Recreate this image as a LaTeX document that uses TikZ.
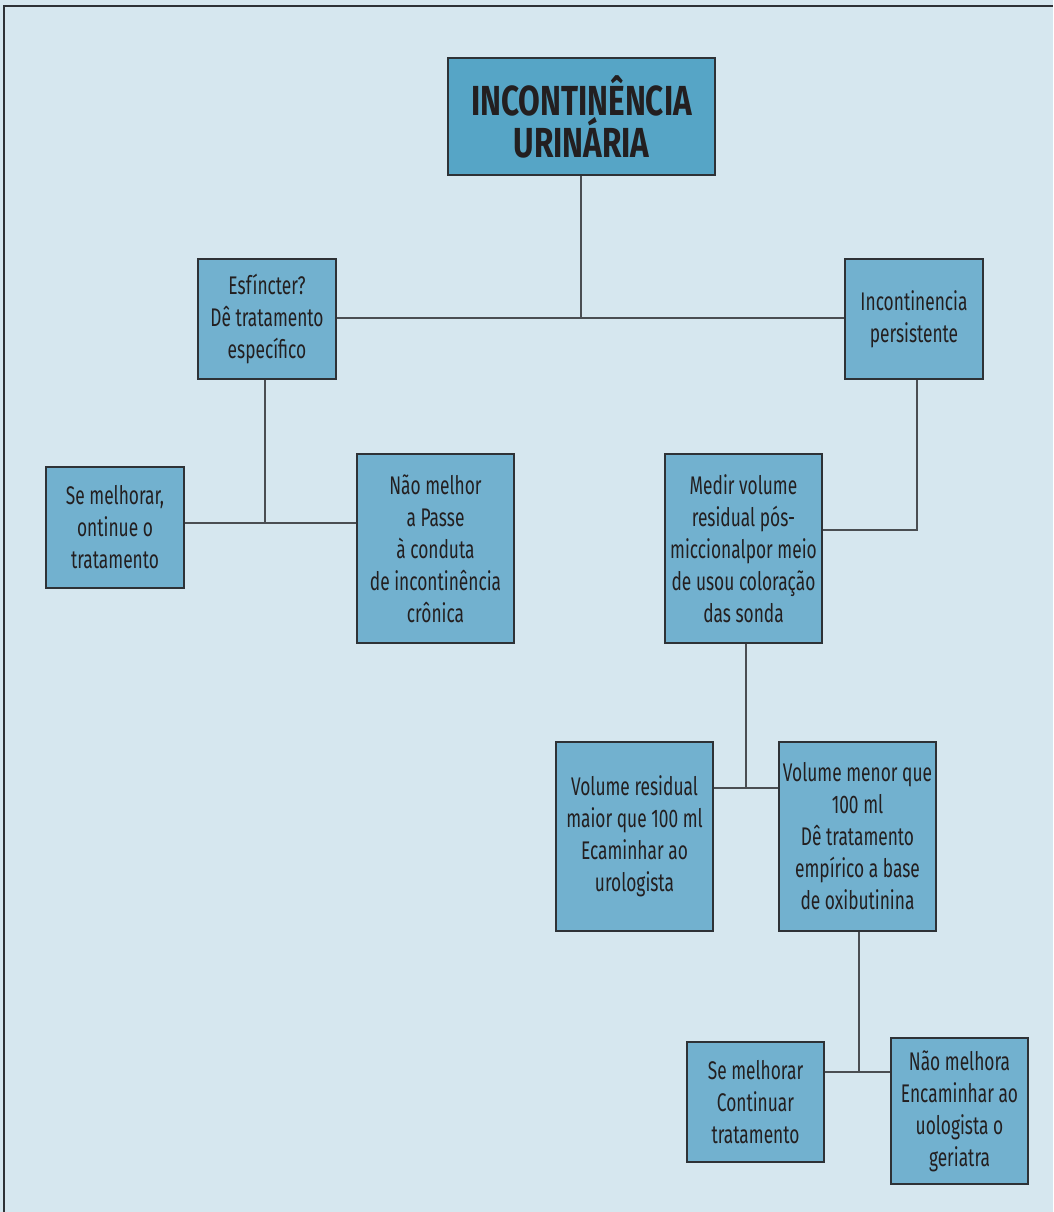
\documentclass[tikz,border=0pt]{standalone}
\usepackage{fontspec}
\setmainfont{Fira Sans}[FakeStretch=0.68]
\newfontfamily\titlefont{Fira Sans}[FakeStretch=0.75]
\definecolor{bgblue}{HTML}{D6E7EF}
\definecolor{boxblue}{HTML}{72B1CF}
\definecolor{titleblue}{HTML}{56A5C6}
\definecolor{edge}{HTML}{2E3236}
\definecolor{ink}{HTML}{231F20}
\definecolor{wire}{HTML}{4A4E52}
\tikzset{
  box/.style={draw=edge, line width=1.2pt, fill=boxblue, align=center, inner sep=0pt,
    text=ink, font=\fontsize{25.5}{32}\selectfont},
  titlebox/.style={box, fill=titleblue, font=\titlefont\fontsize{42}{42}\selectfont\bfseries},
  wire/.style={draw=wire, line width=1.2pt},
}
\begin{document}
\begin{tikzpicture}[x=1pt,y=-1pt]
\fill[bgblue] (0,0) rectangle (1053,1212);
\useasboundingbox (0,0) rectangle (1053,1212);
\draw[edge, line width=1.5pt] (4,1212) -- (4,6) -- (1053,6);

\node[titlebox, minimum width=267pt, minimum height=117pt] (title) at (581.5,116.5) {INCONTINÊNCIA\\URINÁRIA};
\node[box, minimum width=138pt, minimum height=120pt] (esf) at (267,319) {Esfíncter?\\Dê tratamento\\específico};
\node[box, minimum width=138pt, minimum height=120pt] (ip) at (914,319) {Incontinencia\\persistente};
\node[box, minimum width=138pt, minimum height=121pt] (sem) at (115,527.5) {Se melhorar,\\ontinue o\\tratamento};
\node[box, minimum width=157pt, minimum height=189pt] (nao) at (435.5,548.5) {Não melhor\\a Passe\\à conduta\\de incontinência\\crônica};
\node[box, minimum width=157pt, minimum height=189pt] (medir) at (743.5,548.5) {Medir volume\\residual pós-\\miccionalpor meio\\de usou coloração\\das sonda};
\node[box, minimum width=157pt, minimum height=189pt] (vres) at (634.5,836.5) {Volume residual\\maior que 100 ml\\Ecaminhar ao\\urologista};
\node[box, minimum width=157pt, minimum height=189pt] (vmen) at (857.5,836.5) {Volume menor que\\100 ml\\Dê tratamento\\empírico a base\\de oxibutinina};
\node[box, minimum width=137pt, minimum height=120pt] (sem2) at (755.5,1102) {Se melhorar\\Continuar\\tratamento};
\node[box, minimum width=137pt, minimum height=146pt] (nao2) at (959.5,1111) {Não melhora\\Encaminhar ao\\uologista o\\geriatra};

\coordinate (j1) at (581,318);
\coordinate (j2) at (265,523);
\coordinate (j3) at (917,530);
\coordinate (j4) at (746,788);
\coordinate (j5) at (859,1072);

\draw[wire] (title.south -| j1) -- (j1);
\draw[wire] (esf.east |- j1) -- (ip.west |- j1);
\draw[wire] (esf.south -| j2) -- (j2);
\draw[wire] (sem.east |- j2) -- (nao.west |- j2);
\draw[wire] (ip.south -| j3) -- (j3) -- (medir.east |- j3);
\draw[wire] (medir.south -| j4) -- (j4);
\draw[wire] (vres.east |- j4) -- (vmen.west |- j4);
\draw[wire] (vmen.south -| j5) -- (j5);
\draw[wire] (sem2.east |- j5) -- (nao2.west |- j5);
\end{tikzpicture}
\end{document}
